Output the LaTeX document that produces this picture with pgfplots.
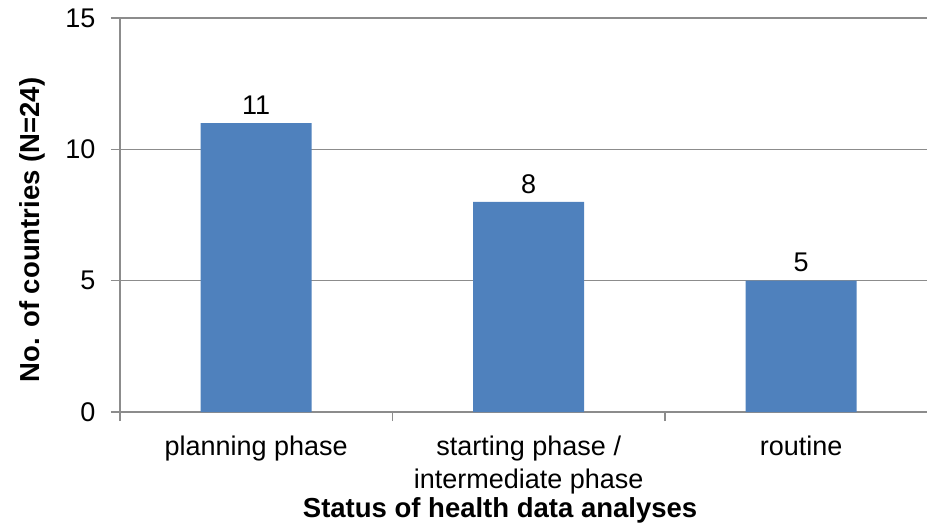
\documentclass[border=0pt]{standalone}
\usepackage{pgfplots}
\pgfplotsset{compat=1.18}
\usepackage{fontspec}
\setmainfont{Liberation Sans}
\definecolor{barblue}{RGB}{79,129,189}
\definecolor{gridgray}{RGB}{140,140,140}
\begin{document}
\begin{tikzpicture}
\begin{axis}[
  scale only axis,
  width=807bp, height=394bp,
  xmin=-0.5, xmax=2.4615,
  ymin=0, ymax=15,
  ytick={0,5,10,15},
  ymajorgrids,
  grid style={draw=gridgray, line width=1.1bp},
  axis x line*=bottom,
  axis y line*=left,
  axis line style={draw=gridgray, line width=1.1bp},
  tick style={draw=gridgray, line width=1.1bp},
  tick align=outside,
  major tick length=9bp,
  xtick={-0.5,0.5,1.5},
  xticklabels={,,},
  extra x ticks={0,1,2},
  extra x tick labels={planning phase,{starting phase /\\intermediate phase},routine},
  extra x tick style={major tick length=0bp, grid=none,
    tick label style={align=center, anchor=north, yshift=-20bp}},
  /pgf/number format/assume math mode=true,
  tick label style={font=\fontsize{27bp}{33bp}\selectfont},
  yticklabel style={xshift=-12bp},
  ylabel={No. of countries (N=24)},
  ylabel style={font=\bfseries\fontsize{27.5bp}{32bp}\selectfont, at={(axis description cs:-0.109,0.462)}, anchor=center},
  xlabel={Status of health data analyses},
  xlabel style={font=\bfseries\fontsize{27.5bp}{32bp}\selectfont, at={(axis description cs:0.471,-0.269)}, anchor=base},
  ybar, bar width=111bp,
  nodes near coords,
  nodes near coords style={font=\fontsize{27bp}{32bp}\selectfont, anchor=south, yshift=5bp},
  clip=false,
]
\addplot[fill=barblue, draw=none] coordinates {(0,11) (1,8) (2,5)};
\end{axis}
\pgfresetboundingbox
\path (-120bp,-114bp) rectangle (807bp,412bp);
\end{tikzpicture}
\end{document}
